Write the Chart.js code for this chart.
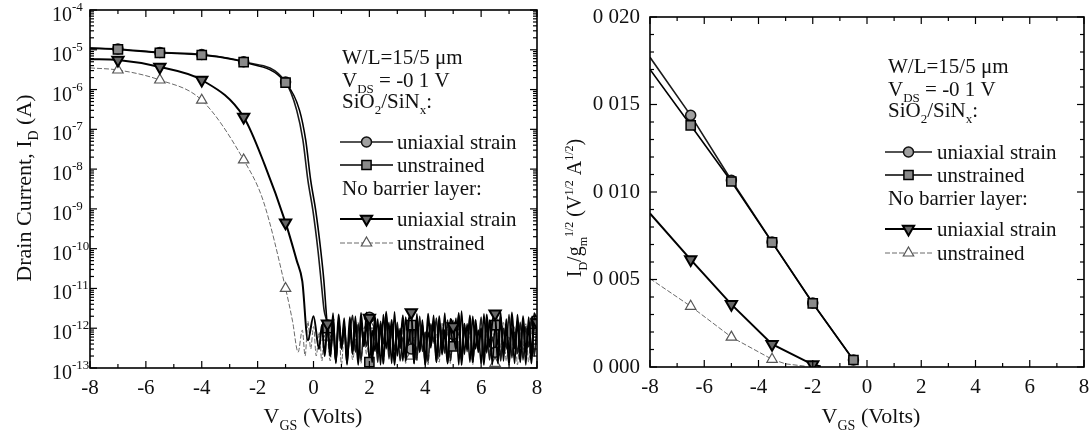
<!DOCTYPE html>
<html>
<head>
<meta charset="utf-8">
<script src="https://cdn.jsdelivr.net/npm/chart.js@4.4.1/dist/chart.umd.min.js"></script>
<style>
  html, body { margin: 0; padding: 0; background: #fff; }
  #wrap { position: relative; width: 1092px; height: 438px; }
  #left { position: absolute; left: 0; top: 0; }
  #right { position: absolute; left: 546px; top: 0; }
</style>
</head>
<body>
<div id="wrap">
  <canvas id="left" width="546" height="438"></canvas>
  <canvas id="right" width="546" height="438"></canvas>
</div>
<script>
// ---- data: left panel, drain current (A) vs V_GS (V), log scale ----
const markerV = [-7, -5.5, -4, -2.5, -1, 0.5, 2, 3.5, 5, 6.5, 8];
const noiseV = [0.5, 0.6, 0.7, 0.8, 0.9, 1.0, 1.1, 1.2, 1.3, 1.4, 1.5, 1.6, 1.7, 1.8, 1.9, 2.0,
  2.1, 2.2, 2.3, 2.4, 2.5, 2.6, 2.7, 2.8, 2.9, 3.0, 3.1, 3.2, 3.3, 3.4, 3.5, 3.6, 3.7, 3.8, 3.9,
  4.0, 4.1, 4.2, 4.3, 4.4, 4.5, 4.6, 4.7, 4.8, 4.9, 5.0, 5.1, 5.2, 5.3, 5.4, 5.5, 5.6, 5.7, 5.8,
  5.9, 6.0, 6.1, 6.2, 6.3, 6.4, 6.5, 6.6, 6.7, 6.8, 6.9, 7.0, 7.1, 7.2, 7.3, 7.4, 7.5, 7.6, 7.7,
  7.8, 7.9, 8.0];

// SiO2/SiNx, uniaxial strain
const sioStrainV = [-8, -7, -5.5, -4, -2.5, -1, -0.6, -0.38, -0.2, -0.02, 0.16, 0.27, 0.38];
const sioStrainI = [1.1e-5, 1.05e-5, 8.6e-6, 7.6e-6, 5e-6, 1.55e-6, 3e-7, 5.4e-8, 5.2e-9, 9e-10, 9e-11, 1.6e-11, 2.8e-12];
const sioStrainNoise = [
  1.2e-12, 2e-13, 9e-13, 1.5e-13, 1.6e-12, 3e-13, 1.1e-12, 1.8e-13, 7e-13, 2.1e-12,
  2.5e-13, 1.3e-12, 1.6e-13, 8e-13, 3.5e-13, 1.9e-12, 2e-13, 1e-12, 1.4e-13, 1.5e-12,
  4e-13, 2.3e-12, 1.7e-13, 9e-13, 2.8e-13, 1.4e-12, 1.5e-13, 6e-13, 2.2e-13, 1.7e-12,
  3e-13, 1.2e-12, 1.6e-13, 2e-12, 2.6e-13, 8e-13, 1.4e-13, 1.3e-12, 4.5e-13, 1.8e-12,
  1.9e-13, 1e-12, 2.4e-13, 1.6e-12, 1.5e-13, 7e-13, 3.2e-13, 2.1e-12, 1.8e-13, 1.1e-12,
  2.7e-13, 1.5e-12, 1.4e-13, 9e-13, 3.8e-13, 1.9e-12, 2.1e-13, 1.2e-12, 1.6e-13, 6e-13,
  2.5e-13, 1.7e-12, 1.5e-13, 1e-12, 3e-13, 2.2e-12, 1.8e-13, 8e-13, 2.3e-13, 1.4e-12,
  1.6e-13, 1.1e-12, 3.4e-13, 1.9e-12, 2e-13, 1.3e-12];

// SiO2/SiNx, unstrained
const sioUnstrV = [-8, -7, -5.5, -4, -2.5, -1, -0.5, -0.28, -0.1, 0.08, 0.26, 0.37, 0.45];
const sioUnstrI = [1.1e-5, 1.02e-5, 8.4e-6, 7.4e-6, 4.9e-6, 1.5e-6, 3e-7, 5.4e-8, 5.2e-9, 9e-10, 9e-11, 1.6e-11, 2.8e-12];
const sioUnstrNoise = [
  1e-12, 3e-13, 2.4e-12, 1.3e-13, 1.5e-12, 4e-13, 1.8e-12, 1.2e-13, 1.1e-12, 2.2e-13,
  2e-12, 1.5e-13, 1.3e-12, 3.6e-13, 2.5e-12, 1.4e-13, 9e-13, 2.6e-13, 1.7e-12, 1.2e-13,
  2.2e-12, 3e-13, 1.4e-12, 1.3e-13, 2.6e-12, 2e-13, 1e-12, 1.5e-13, 1.9e-12, 4e-13,
  1.2e-12, 1.3e-13, 2.3e-12, 2.5e-13, 1.6e-12, 1.2e-13, 8e-13, 3.2e-13, 2.1e-12, 1.4e-13,
  1.5e-12, 2.8e-13, 2.4e-12, 1.3e-13, 1.1e-12, 3.5e-13, 1.8e-12, 1.2e-13, 2.7e-12, 2.2e-13,
  1.3e-12, 1.4e-13, 2e-12, 3e-13, 9e-13, 1.3e-13, 2.3e-12, 2.4e-13, 1.6e-12, 1.2e-13,
  1.2e-12, 3.8e-13, 2.5e-12, 1.5e-13, 1.7e-12, 2.6e-13, 1e-12, 1.3e-13, 2.2e-12, 3.3e-13,
  1.4e-12, 1.2e-13, 1.9e-12, 2.7e-13, 2.4e-12, 1.5e-12];

// no barrier layer, uniaxial strain
const nbStrainV = [-8, -7, -5.5, -4, -2.5, -1.75, -1, -0.6, -0.4, -0.2, 0, 0.2, 0.3, 0.4];
const nbStrainI = [5.8e-6, 5.5e-6, 3.7e-6, 1.74e-6, 2.05e-7, 1.3e-8, 4.5e-10, 5e-11, 1.5e-11, 5e-13, 2e-12, 3e-13, 1.2e-12, 2e-13];
const nbStrainNoise = [
  1.3e-12, 2e-13, 1.7e-12, 1.4e-13, 2.2e-12, 3e-13, 1.2e-12, 1.3e-13, 1.9e-12, 2.6e-13,
  1.5e-12, 1.2e-13, 2.4e-12, 3.5e-13, 1.1e-12, 1.8e-12, 1.4e-13, 2e-12, 2.3e-13, 1.3e-12,
  1.3e-13, 2.6e-12, 2.8e-13, 1.6e-12, 1.2e-13, 1e-12, 3.2e-13, 2.1e-12, 1.5e-13, 1.4e-12,
  2.5e-12, 1.3e-13, 1.8e-12, 2.6e-13, 1.2e-12, 1.2e-13, 2.3e-12, 3.7e-13, 1.5e-12, 1.4e-13,
  2e-12, 2.2e-13, 9e-13, 1.3e-13, 1.7e-12, 1.1e-12, 2.9e-13, 2.4e-12, 1.2e-13, 1.3e-12,
  3e-13, 2.1e-12, 1.4e-13, 1.6e-12, 2.5e-13, 1e-12, 1.2e-13, 2.2e-12, 3.4e-13, 1.4e-12,
  2.3e-12, 1.3e-13, 1.9e-12, 2.7e-13, 1.1e-12, 1.2e-13, 2.5e-12, 3.1e-13, 1.5e-12, 1.4e-13,
  2e-12, 2.4e-13, 1.2e-12, 1.3e-13, 1.8e-12, 1.4e-12];

// no barrier layer, unstrained
const nbUnstrV = [-8, -7, -5.5, -4, -2.5, -1.8, -1, -0.75, -0.55, -0.4, -0.3, -0.2, -0.1, 0, 0.1, 0.2, 0.3, 0.4];
const nbUnstrI = [3.5e-6, 3.1e-6, 1.74e-6, 5.4e-7, 1.7e-8, 1.6e-9, 1e-11, 1.5e-12, 2.5e-13, 9e-13, 2e-13, 1.5e-12, 3e-13, 1.1e-12, 2e-13, 8e-13, 1.5e-13, 1.2e-12];
const nbUnstrNoise = [
  6e-13, 1.5e-13, 9e-13, 2.5e-13, 1.3e-12, 1.2e-13, 7e-13, 3e-13, 1.1e-12, 1.6e-13,
  5e-13, 1.4e-12, 1.3e-13, 8e-13, 2.2e-13, 1.2e-12, 1.5e-13, 6e-13, 3.5e-13, 1e-12,
  1.2e-13, 1.6e-12, 2.4e-13, 7e-13, 1.4e-13, 1.1e-12, 3e-13, 9e-13, 1.3e-13, 1.3e-12,
  2e-13, 6e-13, 1.5e-13, 1.5e-12, 2.8e-13, 8e-13, 1.2e-13, 1.2e-12, 4e-13, 7e-13,
  1.4e-13, 1.4e-12, 2.3e-13, 9e-13, 1.3e-13, 1.1e-12, 3.2e-13, 6e-13, 1.5e-13, 1.3e-12,
  2.5e-13, 8e-13, 1.2e-13, 1.6e-12, 3e-13, 1e-12, 1.4e-13, 7e-13, 2.6e-13, 1.2e-12,
  1.3e-13, 9e-13, 3.3e-13, 1.4e-12, 1.5e-13, 6e-13, 2.2e-13, 1.1e-12, 1.2e-13, 8e-13,
  2.9e-13, 1.3e-12, 1.4e-13, 1e-12, 2.1e-13, 9e-13];

// ---- data: right panel, I_D / g_m^1/2 vs V_GS ----
const rMarkerV = [-6.5, -5, -3.5, -2, -0.5];
const rSioV = [-8, -6.5, -5, -3.5, -2, -0.5];
const rSioStrain = [0.0177, 0.01438, 0.01067, 0.00714, 0.00366, 0.0004];
const rSioUnstr = [0.0170, 0.01381, 0.0106, 0.00712, 0.00364, 0.0004];
const rNbStrainV = [-8, -6.5, -5, -3.5, -2, -1.7];
const rNbStrain = [0.00877, 0.00614, 0.00358, 0.0013, 0.00014, 0.00003];
const rNbUnstrV = [-8, -6.5, -5, -3.5, -3, -2.3];
const rNbUnstr = [0.00505, 0.00347, 0.00171, 0.00044, 0.00018, 0.00005];

// ---- tick labels ----
const xTickValues = [-8, -6, -4, -2, 0, 2, 4, 6, 8];
const xTickLabels = ['-8', '-6', '-4', '-2', '0', '2', '4', '6', '8'];
const logTickValues = [1e-13, 1e-12, 1e-11, 1e-10, 1e-9, 1e-8, 1e-7, 1e-6, 1e-5, 1e-4];
const logTickExps = ['-13', '-12', '-11', '-10', '-9', '-8', '-7', '-6', '-5', '-4'];
const rYTickValues = [0, 0.005, 0.01, 0.015, 0.02];
const rYTickLabels = ['0 000', '0 005', '0 010', '0 015', '0 020'];

const FONT = '"Liberation Serif", "Times New Roman", serif';
Chart.defaults.font.family = FONT;
Chart.defaults.color = '#111';

const styles = {
  sioStrain: { borderColor: '#1a1a1a', borderWidth: 1.6, pointStyle: 'circle', pointRadius: 5,
    pointBackgroundColor: '#a0a0a0', pointBorderColor: '#111', pointBorderWidth: 1.5 },
  sioUnstr: { borderColor: '#000', borderWidth: 1.6, pointStyle: 'rect', pointRadius: 6.5,
    pointBackgroundColor: '#8a8a8a', pointBorderColor: '#000', pointBorderWidth: 1.5 },
  nbStrain: { borderColor: '#000', borderWidth: 2, pointStyle: 'triangle', pointRotation: 180, pointRadius: 6.5,
    pointBackgroundColor: '#666', pointBorderColor: '#000', pointBorderWidth: 2 },
  nbUnstr: { borderColor: '#6a6a6a', borderWidth: 1, borderDash: [5, 2], pointStyle: 'triangle', pointRadius: 6,
    pointBackgroundColor: '#fff', pointBorderColor: '#555', pointBorderWidth: 1.2 },
};

const toPoints = (xs, ys) => xs.map((x, i) => ({ x: x, y: ys[i] }));

function makeDataset(label, points, st, marks, smooth) {
  return {
    label: label,
    data: points,
    borderColor: st.borderColor,
    borderWidth: st.borderWidth,
    borderDash: st.borderDash || [],
    cubicInterpolationMode: smooth ? 'monotone' : 'default',
    tension: 0,
    fill: false,
    pointStyle: st.pointStyle,
    pointRotation: st.pointRotation || 0,
    pointRadius: (c) => (c.raw && marks.includes(c.raw.x) ? st.pointRadius : 0),
    pointHoverRadius: 0,
    pointBackgroundColor: st.pointBackgroundColor,
    pointBorderColor: st.pointBorderColor,
    pointBorderWidth: st.pointBorderWidth,
  };
}

// rich text: parts = [[text, mode]], mode 0 normal, 1 subscript, 2 superscript
function richText(ctx, parts, x, y, size, align) {
  const small = Math.round(size * 0.62);
  const fontOf = (m) => (m ? small : size) + 'px ' + FONT;
  let w = 0;
  parts.forEach((p) => { ctx.font = fontOf(p[1]); w += ctx.measureText(p[0]).width; });
  let cx = align === 'center' ? x - w / 2 : x;
  ctx.textAlign = 'left';
  ctx.textBaseline = 'alphabetic';
  parts.forEach((p) => {
    ctx.font = fontOf(p[1]);
    const dy = p[1] === 1 ? size * 0.3 : p[1] === 2 ? -size * 0.42 : 0;
    ctx.fillText(p[0], cx, y + dy);
    cx += ctx.measureText(p[0]).width;
  });
}

function drawMarker(ctx, st, x, y) {
  ctx.save();
  ctx.fillStyle = st.pointBackgroundColor;
  ctx.strokeStyle = st.pointBorderColor;
  ctx.lineWidth = st.pointBorderWidth;
  ctx.setLineDash([]);
  Chart.helpers.drawPoint(ctx, {
    pointStyle: st.pointStyle, rotation: st.pointRotation || 0,
    radius: st.pointRadius, borderWidth: st.pointBorderWidth,
  }, x, y);
  ctx.restore();
}

// frame with inward ticks on all four sides
const frameTicks = {
  id: 'frameTicks',
  afterDraw(chart, args, o) {
    const { ctx, chartArea: a } = chart;
    const xs = chart.scales.x, ys = chart.scales.y;
    ctx.save();
    ctx.strokeStyle = '#000';
    ctx.lineWidth = 1.2;
    const seg = (x1, y1, x2, y2) => { ctx.beginPath(); ctx.moveTo(x1, y1); ctx.lineTo(x2, y2); ctx.stroke(); };
    for (let v = -8; v <= 8; v += 1) {
      const px = xs.getPixelForValue(v);
      const len = v % 2 === 0 ? 7 : 4;
      seg(px, a.bottom, px, a.bottom - len);
      seg(px, a.top, px, a.top + len);
    }
    const yTicks = [];
    if (o.log) {
      logTickValues.forEach((v, i) => {
        yTicks.push([v, true]);
        if (i < logTickValues.length - 1) for (let m = 2; m <= 9; m++) yTicks.push([v * m, false]);
      });
    } else {
      for (let k = 0; k <= 20; k++) yTicks.push([k * 0.001, k % 5 === 0]);
    }
    yTicks.forEach(([v, major]) => {
      const py = ys.getPixelForValue(v);
      const len = major ? 7 : 4;
      seg(a.left, py, a.left + len, py);
      seg(a.right, py, a.right - len, py);
    });
    ctx.lineWidth = 1.6;
    ctx.strokeRect(a.left, a.top, a.right - a.left, a.bottom - a.top);
    // log axis labels 10^n
    if (o.log) {
      ctx.fillStyle = '#111';
      logTickValues.forEach((v, i) => {
        const py = ys.getPixelForValue(v);
        ctx.font = '20px ' + FONT;
        ctx.textAlign = 'right';
        ctx.textBaseline = 'alphabetic';
        ctx.fillText('10', 72, py + 11);
        ctx.font = '13px ' + FONT;
        ctx.textAlign = 'left';
        ctx.fillText(logTickExps[i], 72, py + 1);
      });
    }
    ctx.restore();
  },
};

// axis titles and the in-plot legend
const annotate = {
  id: 'annotate',
  afterDraw(chart, args, o) {
    const ctx = chart.ctx;
    ctx.save();
    ctx.fillStyle = '#111';
    richText(ctx, o.xTitle, o.xTitleAt[0], o.xTitleAt[1], 22, 'center');
    ctx.save();
    ctx.translate(o.yTitleAt[0], o.yTitleAt[1]);
    ctx.rotate(-Math.PI / 2);
    richText(ctx, o.yTitle, 0, 0, o.yTitleSize, 'center');
    ctx.restore();
    o.rows.forEach((r, i) => {
      const y = o.rowY[i];
      if (r.key) {
        const st = styles[r.key];
        ctx.save();
        ctx.strokeStyle = st.borderColor;
        ctx.lineWidth = st.borderWidth;
        ctx.setLineDash(st.borderDash || []);
        ctx.beginPath();
        ctx.moveTo(o.lineX[0], y);
        ctx.lineTo(o.lineX[1], y);
        ctx.stroke();
        ctx.restore();
        drawMarker(ctx, st, (o.lineX[0] + o.lineX[1]) / 2, y);
        richText(ctx, r.text, o.itemX, y + 7, 21, 'left');
      } else {
        richText(ctx, r.text, o.headX, y + 7, 21, 'left');
      }
    });
    ctx.restore();
  },
};

const legendRows = [
  { text: [['W/L=15/5 μm', 0]] },
  { text: [['V', 0], ['DS', 1], [' = -0 1 V', 0]] },
  { text: [['SiO', 0], ['2', 1], ['/SiN', 0], ['x', 1], [':', 0]] },
  { key: 'sioStrain', text: [['uniaxial strain', 0]] },
  { key: 'sioUnstr', text: [['unstrained', 0]] },
  { text: [['No barrier layer:', 0]] },
  { key: 'nbStrain', text: [['uniaxial strain', 0]] },
  { key: 'nbUnstr', text: [['unstrained', 0]] },
];
const vgsTitle = [['V', 0], ['GS', 1], [' (Volts)', 0]];

function xScale(height) {
  return {
    type: 'linear', min: -8, max: 8,
    grid: { display: false, drawTicks: false },
    border: { display: false },
    ticks: {
      stepSize: 2, maxRotation: 0, autoSkip: false, padding: 8,
      font: { size: 21, family: FONT }, color: '#111',
      callback: (v) => { const i = xTickValues.indexOf(v); return i >= 0 ? xTickLabels[i] : ''; },
    },
    afterFit: (s) => { s.height = height; s.paddingLeft = 0; s.paddingRight = 0; },
  };
}

// ---- left chart ----
new Chart(document.getElementById('left'), {
  type: 'line',
  data: {
    datasets: [
      makeDataset('No barrier, uniaxial strain', toPoints(nbStrainV, nbStrainI).concat(toPoints(noiseV, nbStrainNoise)), styles.nbStrain, markerV, true),
      makeDataset('SiO2/SiNx, unstrained', toPoints(sioUnstrV, sioUnstrI).concat(toPoints(noiseV, sioUnstrNoise)), styles.sioUnstr, markerV, true),
      makeDataset('SiO2/SiNx, uniaxial strain', toPoints(sioStrainV, sioStrainI).concat(toPoints(noiseV, sioStrainNoise)), styles.sioStrain, markerV, true),
      makeDataset('No barrier, unstrained', toPoints(nbUnstrV, nbUnstrI).concat(toPoints(noiseV, nbUnstrNoise)), styles.nbUnstr, markerV, true),
    ],
  },
  options: {
    responsive: false,
    animation: false,
    layout: { padding: { top: 10, right: 9, left: 0, bottom: 0 } },
    scales: {
      x: xScale(70),
      y: {
        type: 'logarithmic', min: 1e-13, max: 1e-4,
        grid: { display: false, drawTicks: false },
        border: { display: false },
        ticks: { display: false },
        afterFit: (s) => { s.width = 90; s.paddingTop = 0; s.paddingBottom = 0; },
      },
    },
    plugins: {
      legend: { display: false },
      tooltip: { enabled: false },
      frameTicks: { log: true },
      annotate: {
        xTitle: vgsTitle, xTitleAt: [313, 423],
        yTitle: [['Drain Current, I', 0], ['D', 1], [' (A)', 0]], yTitleAt: [31, 188], yTitleSize: 22,
        rows: legendRows, rowY: [57, 80, 101, 142, 165, 188, 219, 243],
        headX: 342, itemX: 397, lineX: [340, 393],
      },
    },
  },
  plugins: [frameTicks, annotate],
});

// ---- right chart ----
new Chart(document.getElementById('right'), {
  type: 'line',
  data: {
    datasets: [
      makeDataset('No barrier, uniaxial strain', toPoints(rNbStrainV, rNbStrain), styles.nbStrain, rMarkerV, false),
      makeDataset('SiO2/SiNx, unstrained', toPoints(rSioV, rSioUnstr), styles.sioUnstr, rMarkerV, false),
      makeDataset('SiO2/SiNx, uniaxial strain', toPoints(rSioV, rSioStrain), styles.sioStrain, rMarkerV, false),
      makeDataset('No barrier, unstrained', toPoints(rNbUnstrV, rNbUnstr), styles.nbUnstr, rMarkerV, false),
    ],
  },
  options: {
    responsive: false,
    animation: false,
    layout: { padding: { top: 17, right: 5, left: 0, bottom: 0 } },
    scales: {
      x: xScale(71),
      y: {
        type: 'linear', min: 0, max: 0.02,
        grid: { display: false, drawTicks: false },
        border: { display: false },
        ticks: {
          stepSize: 0.005, padding: 10, autoSkip: false,
          font: { size: 21, family: FONT }, color: '#111',
          callback: (v) => {
            const i = rYTickValues.findIndex((t) => Math.abs(t - v) < 1e-9);
            return i >= 0 ? rYTickLabels[i] : '';
          },
        },
        afterFit: (s) => { s.width = 104; s.paddingTop = 0; s.paddingBottom = 0; },
      },
    },
    plugins: {
      legend: { display: false },
      tooltip: { enabled: false },
      frameTicks: { log: false },
      annotate: {
        xTitle: vgsTitle, xTitleAt: [325, 423],
        yTitle: [['I', 0], ['D', 1], ['/g', 0], ['m', 1], ['1/2', 2], [' (V', 0], ['1/2', 2], [' A', 0], ['1/2', 2], [')', 0]],
        yTitleAt: [35, 208], yTitleSize: 20,
        rows: legendRows, rowY: [66, 89, 110, 152, 175, 198, 229, 253],
        headX: 342, itemX: 391, lineX: [339, 386],
      },
    },
  },
  plugins: [frameTicks, annotate],
});
</script>
</body>
</html>
